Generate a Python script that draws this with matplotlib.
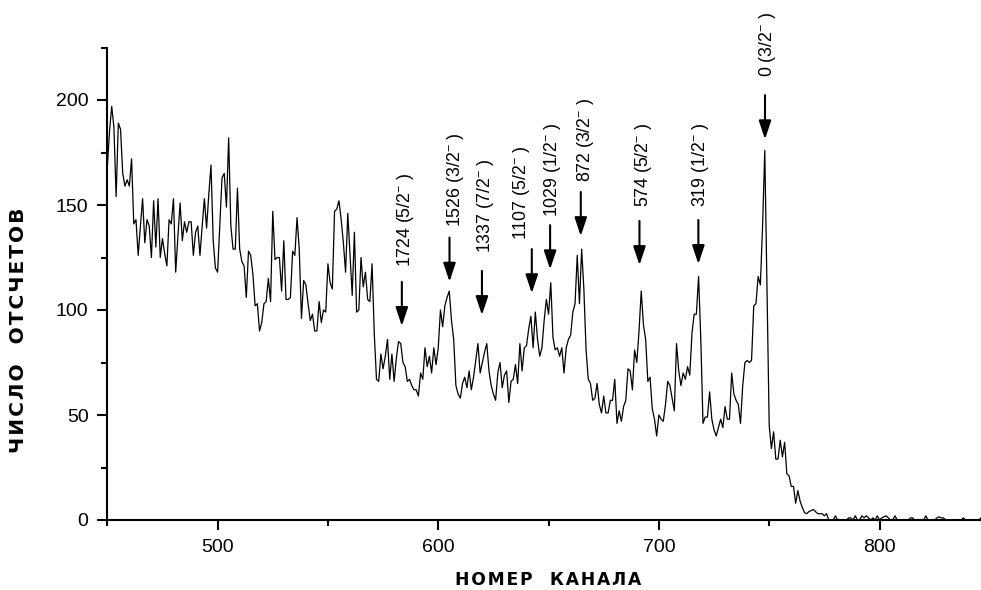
import matplotlib
matplotlib.use("Agg")
import matplotlib.pyplot as plt
from matplotlib.ticker import MultipleLocator
from matplotlib.patches import ArrowStyle

plt.rcParams['font.family'] = ['Liberation Sans', 'DejaVu Sans']
plt.rcParams['mathtext.fontset'] = 'custom'
plt.rcParams['mathtext.rm'] = 'Liberation Sans'
plt.rcParams['mathtext.it'] = 'Liberation Sans'

# ---- data ----
channels = list(range(450, 778))
counts = [
    168, 185, 197, 187, 154, 189, 186, 165, 159, 162,   # 450-459
    159, 172, 141, 143, 126, 140, 153, 132, 143, 140,   # 460-469
    125, 152, 130, 153, 125, 134, 127, 121, 143, 141,   # 470-479
    153, 118, 135, 151, 133, 142, 137, 142, 142, 126,   # 480-489
    137, 140, 126, 140, 153, 139, 155, 169, 133, 120,   # 490-499
    118, 140, 163, 165, 149, 182, 140, 129, 129, 158,   # 500-509
    129, 123, 121, 106, 128, 126, 117, 102, 103, 90,    # 510-519
    94, 103, 104, 115, 104, 147, 124, 125, 125, 109,    # 520-529
    133, 105, 105, 106, 128, 126, 144, 129, 96, 114,    # 530-539
    112, 103, 95, 98, 90, 90, 104, 94, 100, 99,         # 540-549
    122, 113, 110, 147, 148, 152, 143, 132, 118, 146,   # 550-559
    126, 107, 137, 99, 100, 125, 111, 118, 105, 104,    # 560-569
    122, 89, 67, 66, 79, 72, 78, 86, 67, 79,            # 570-579
    66, 77, 85, 84, 75, 73, 66, 67, 64, 62,             # 580-589
    62, 59, 70, 67, 82, 73, 78, 70, 82, 74,             # 590-599
    82, 100, 92, 102, 106, 109, 95, 86, 64, 60,         # 600-609
    58, 65, 68, 63, 71, 62, 68, 76, 84, 70,             # 610-619
    75, 80, 84, 71, 64, 60, 57, 70, 75, 63,             # 620-629
    69, 71, 56, 66, 67, 74, 65, 84, 71, 82,             # 630-639
    83, 91, 97, 82, 99, 86, 78, 82, 95, 105,            # 640-649
    98, 113, 87, 81, 82, 78, 82, 70, 82, 86,            # 650-659
    88, 99, 103, 126, 103, 129, 110, 81, 67, 65,        # 660-669
    57, 58, 65, 55, 51, 59, 51, 51, 57, 57,             # 670-679
    67, 46, 52, 47, 54, 57, 72, 71, 62, 81,             # 680-689
    75, 90, 109, 93, 86, 66, 68, 53, 48, 40,            # 690-699
    50, 48, 47, 55, 66, 64, 58, 52, 84, 71,             # 700-709
    64, 70, 67, 73, 69, 89, 98, 98, 116, 86,            # 710-719
    46, 49, 49, 61, 48, 43, 40, 44, 48, 44,             # 720-729
    54, 48, 48, 70, 60, 57, 55, 46, 64, 75,             # 730-739
    76, 75, 76, 102, 103, 116, 112, 140, 176, 112,      # 740-749
    45, 34, 42, 29, 29, 38, 30, 37, 22, 21,             # 750-759
    16, 16, 8, 14, 9, 6, 3.5, 3, 4, 4.5,                # 760-769
    5, 4, 3, 3, 3, 2, 3, 0,                             # 770-777
]
tail_channels = list(range(778, 847))
tail_counts = [
    0, 0, 2, 0, 0, 0, 0, 0, 1, 1, 0, 2,                 # 778-789
    0, 0, 2, 1, 2, 1, 0, 1, 0, 2,                       # 790-799
    0, 1, 1.5, 2, 1, 0, 0, 2, 0, 0,                     # 800-809
    0, 0, 0, 0, 1, 1, 0, 0, 0, 0,                       # 810-819
    0, 2, 0, 0, 0, 0, 1, 1.5, 1, 1,                     # 820-829
    0, 0, 0, 0, 0, 0, 0, 0, 1, 0,                       # 830-839
    0, 0, 0, 0, 0, 0, 1,                                # 840-846
]

peak_channels = [583.5, 605.1, 619.8, 642.4, 650.7, 664.6, 691.2, 717.9, 748.1]
arrow_tips = [92.4, 113.5, 97.6, 108.0, 119.4, 135.2, 121.4, 121.9, 181.3]
peak_labels = [
    r"1724 (5/2$^{-}$ )", r"1526 (3/2$^{-}$ )", r"1337 (7/2$^{-}$ )",
    r"1107 (5/2$^{-}$ )", r"1029 (1/2$^{-}$ )", r"872 (3/2$^{-}$ )",
    r"574 (5/2$^{-}$ )", r"319 (1/2$^{-}$ )", r"0 (3/2$^{-}$ )",
]

x_label = "НОМЕР  КАНАЛА"
y_label = "ЧИСЛО  ОТСЧЕТОВ"

# ---- layout (annotation text placement, in data units) ----
label_dx = [1.8, 2.8, 1.8, -4.5, 1.0, 2.0, 1.8, 1.0, 1.0]
label_y = [120.6, 139.7, 127.1, 133.3, 144.4, 161.1, 149.2, 149.2, 211.1]


def spaced(s, gap='\u200a'):
    return gap.join(s)


# ---- figure ----
W, H = 981, 590
fig = plt.figure(figsize=(W / 100, H / 100), dpi=100)
ax = fig.add_axes([107.3 / W, 70 / H, 873.7 / W, 472.5 / H])

ax.plot(channels + tail_channels, counts + tail_counts, color='black', lw=0.9)

ax.set_xlim(450, 846)
ax.set_ylim(0, 225)
ax.xaxis.set_major_locator(MultipleLocator(100))
ax.xaxis.set_minor_locator(MultipleLocator(50))
ax.yaxis.set_major_locator(MultipleLocator(50))
ax.yaxis.set_minor_locator(MultipleLocator(25))

for s in ['top', 'right']:
    ax.spines[s].set_visible(False)
for s in ['left', 'bottom']:
    ax.spines[s].set_linewidth(1.5)

ax.tick_params(which='major', direction='out', length=7.5, width=1.5,
               labelsize=14, pad=6)
ax.tick_params(which='minor', direction='out', length=4, width=1.5)

fig.text(548 / W, 1 - 580 / H, spaced(x_label), fontsize=12.3,
         fontweight='bold', family=['DejaVu Sans'], ha='center', va='center')
fig.text(18.5 / W, 1 - 330 / H, spaced(y_label), fontsize=14.5,
         fontweight='bold', family=['DejaVu Sans'], ha='center',
         va='center', rotation=90)

astyle = ArrowStyle('-|>', head_length=0.75, head_width=0.25)
for xc, tip, dx, ly, lab in zip(peak_channels, arrow_tips, label_dx,
                                label_y, peak_labels):
    tail = tip + 21
    ax.annotate('', xy=(xc, tip), xytext=(xc, tail),
                arrowprops=dict(arrowstyle=astyle, color='black', lw=1.5,
                                mutation_scale=15, shrinkA=0, shrinkB=0))
    ax.text(xc + dx, ly, lab, rotation=90, ha='center', va='bottom',
            fontsize=12.8)

fig.savefig('out.png', dpi=100)
